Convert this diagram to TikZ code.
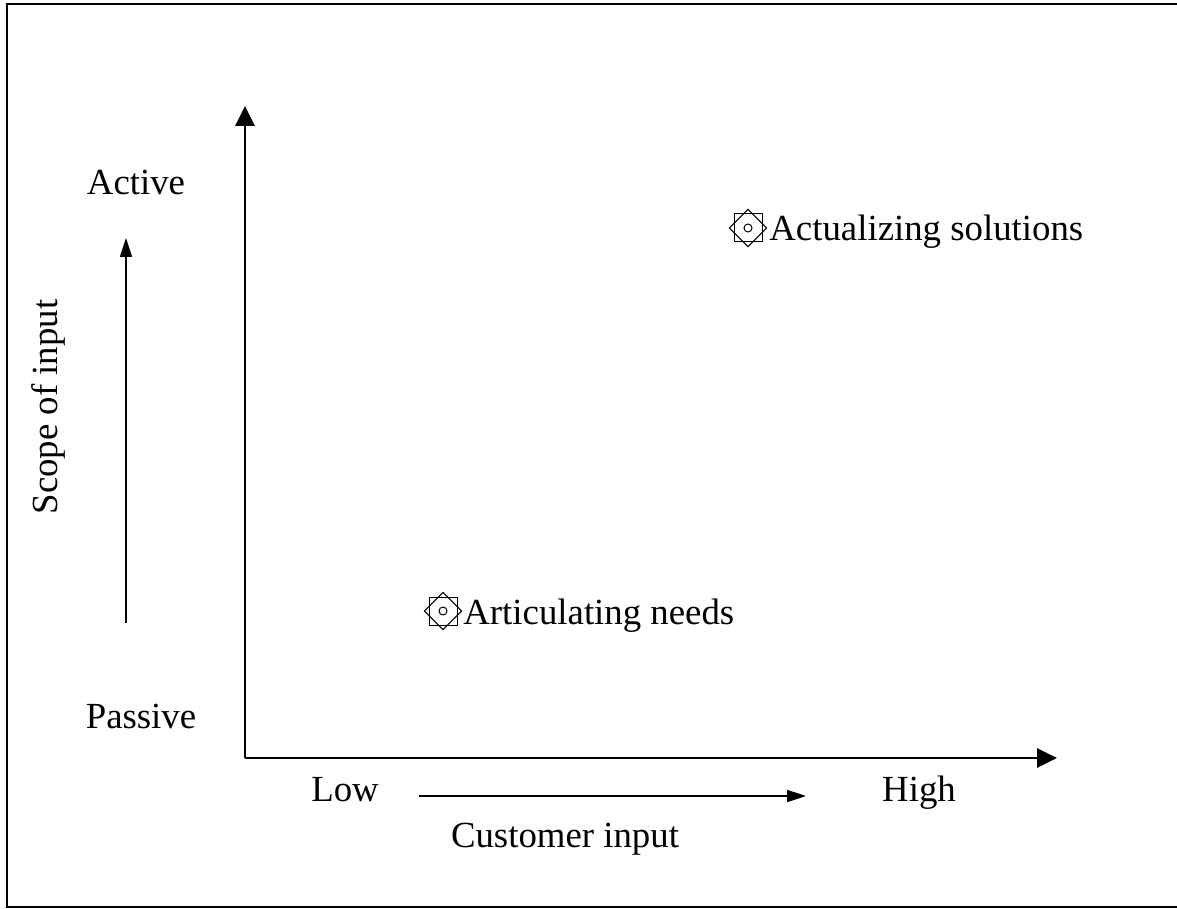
\documentclass[tikz,border=0pt]{standalone}
\usepackage{fontspec}
\setmainfont{Liberation Serif}
\usetikzlibrary{positioning, arrows.meta}
\tikzset{
	frame/.style ={draw, line width=1pt},
	axis/.style ={
		line width=1.4pt,
		-{Triangle[length=10pt,width=9.5pt]}
	},
	hint/.style ={
		line width=0.8pt,
		-{Triangle[length=9.5pt,width=6pt]}
	},
	labe/.style ={
		inner sep=0pt,
		font={\fontsize{18.4}{22}\selectfont}
	},
	stagemark/.style ={
		minimum size=20pt,
		inner sep=0pt,
		path picture={
			\draw[line width=0.5pt] ([shift={(-7pt,-7pt)}]path picture bounding box.center) rectangle ++(14pt,14pt);
			\draw[line width=0.5pt] ([shift={(0pt,9.3pt)}]path picture bounding box.center)
				-- ++(9.3pt,-9.3pt) -- ++(-9.3pt,-9.3pt) -- ++(-9.3pt,9.3pt) -- cycle;
			\draw[line width=0.5pt] (path picture bounding box.center) circle (2pt);
		}
	}
}

\begin{document}
\begin{tikzpicture}[x=0.5pt, y=-0.5pt]
\useasboundingbox (0,0) rectangle (1177,909);
% the right side of the frame falls just off the page
\draw[frame] (7,4) rectangle (1180,907);

% axes
\coordinate (origin) at (245,758);
\coordinate (ytop) at (245,106);
\coordinate (xend) at (1057,758);
\draw[axis] (origin.center) -- (ytop);
\draw[axis] (origin.center) -- (xend);

% vertical scale
\node(active)[labe, anchor=base] at (136,195) {Active};
\node(passive)[labe, anchor=base] at (141,728) {Passive};
\coordinate (vlow) at (126,623);
\coordinate (vhigh) at (126,238);
\draw[hint] (vlow) -- (vhigh);
\node(scope)[labe, anchor=base, rotate=90] at (57,407) {Scope of input};

% horizontal scale
\node(low)[labe, anchor=base] at (345,801) {Low};
\node(high)[labe, anchor=base] at (919,801) {High};
\coordinate (hlow) at (419,796);
\coordinate (hhigh) at (806,796);
\draw[hint] (hlow) -- (hhigh);
\node(cust)[labe, anchor=base] at (565,847) {Customer input};

% stages
\node(needsmark)[stagemark] at (443,611) {};
\node(needs)[labe, anchor=base west] at (463,624) {Articulating needs};

\node(solmark)[stagemark] at (748,228) {};
\node(sol)[labe, anchor=base west] at (769,241) {Actualizing solutions};
\end{tikzpicture}
\end{document}
